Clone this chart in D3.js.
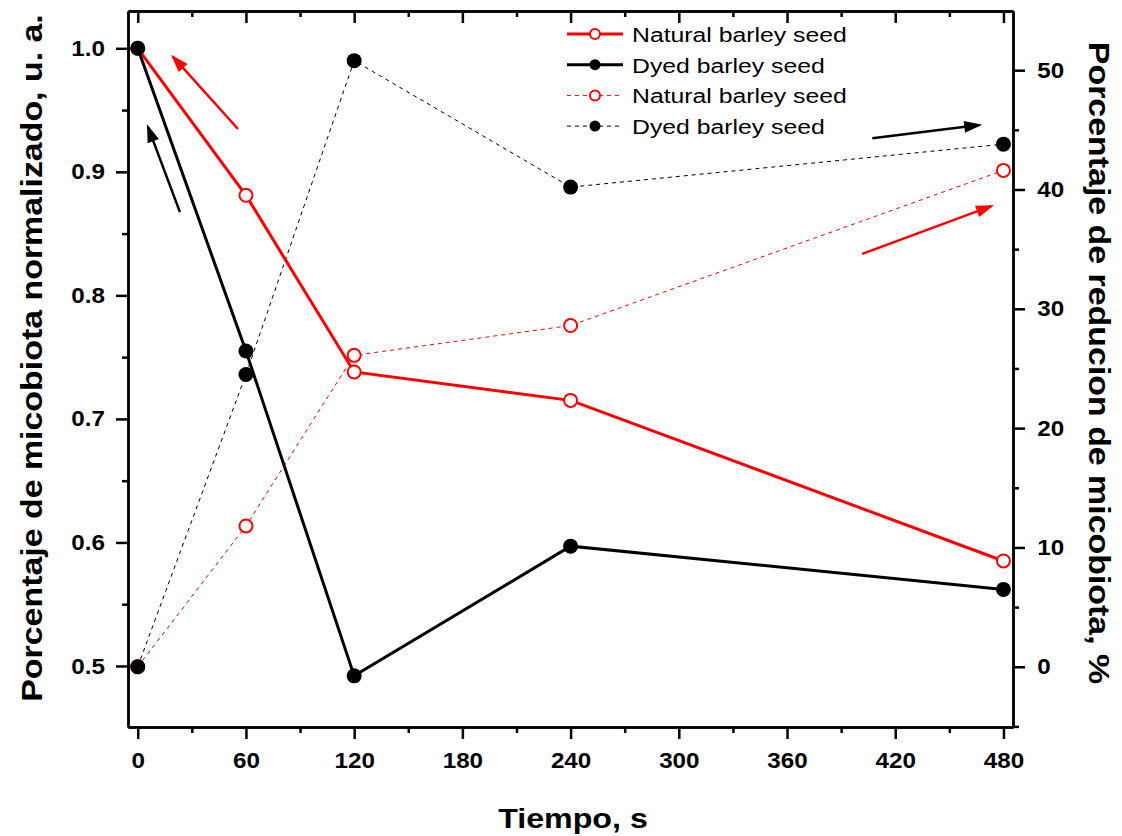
<!DOCTYPE html>
<html>
<head>
<meta charset="utf-8">
<script src="https://cdn.jsdelivr.net/npm/d3@7"></script>
<style>
  body { margin: 0; background: #fff; }
  text { font-family: "Liberation Sans", Arial, sans-serif; }
  .axis text { font-weight: bold; font-size: 22px; fill: #000; }
  .axis path, .axis line { stroke: #000; stroke-width: 2.5; }
</style>
</head>
<body>
<svg width="1122" height="836"></svg>
<script>
// values
var times = [0, 60, 120, 240, 480];
var naturalNorm = [1.0, 0.881, 0.738, 0.715, 0.585];
var dyedNorm = [1.0, 0.755, 0.492, 0.597, 0.562];
var naturalRed = [0, 11.8, 26.1, 28.6, 41.6];
var dyedRed = [0, 24.5, 50.8, 40.2, 43.8];

var xTicks = [0, 60, 120, 180, 240, 300, 360, 420, 480];
var xMinor = [30, 90, 150, 210, 270, 330, 390, 450];
var leftTicks = [0.5, 0.6, 0.7, 0.8, 0.9, 1.0];
var leftMinor = [0.55, 0.65, 0.75, 0.85, 0.95];
var rightTicks = [0, 10, 20, 30, 40, 50];
var rightMinor = [-5, 5, 15, 25, 35, 45];

var legendLabels = ["Natural barley seed", "Dyed barley seed", "Natural barley seed", "Dyed barley seed"];

var svg = d3.select("svg"),
    stretch = 1.1,
    box = { left: 128, right: 1013, top: 11, bottom: 727 };

var x = d3.scaleLinear().domain([-5.4, 485.3]).range([box.left, box.right]);
var yL = d3.scaleLinear().domain([0.4506, 1.0302]).range([box.bottom, box.top]);
var yR = d3.scaleLinear().domain([-5.05, 54.96]).range([box.bottom, box.top]);

var defs = svg.append("defs");
["red", "black"].forEach(function (c) {
  defs.append("marker")
    .attr("id", "head-" + c)
    .attr("viewBox", "0 -5 12 10")
    .attr("refX", 10).attr("refY", 0)
    .attr("markerWidth", 9).attr("markerHeight", 6)
    .attr("orient", "auto")
    .append("path").attr("d", "M0,-4L12,0L0,4Z").attr("fill", c === "red" ? "#ff0000" : "#000");
});

// axes
function stretchText(sel) {
  sel.selectAll("text").attr("transform", "scale(" + stretch + ",1)");
}
svg.append("g").attr("class", "axis")
  .attr("transform", "translate(0," + box.bottom + ")")
  .call(d3.axisBottom(x).tickValues(xTicks).tickSize(12).tickSizeOuter(0).tickPadding(13).tickFormat(d3.format("d")))
  .call(stretchText);
svg.append("g").attr("class", "axis")
  .attr("transform", "translate(0," + box.bottom + ")")
  .call(d3.axisBottom(x).tickValues(xMinor).tickSize(6).tickSizeOuter(0).tickFormat(""));
svg.append("g").attr("class", "axis")
  .attr("transform", "translate(0," + box.top + ")")
  .call(d3.axisTop(x).tickValues(xTicks).tickSize(-12).tickSizeOuter(0).tickFormat(""));
svg.append("g").attr("class", "axis")
  .attr("transform", "translate(0," + box.top + ")")
  .call(d3.axisTop(x).tickValues(xMinor).tickSize(-6).tickSizeOuter(0).tickFormat(""));

svg.append("g").attr("class", "axis")
  .attr("transform", "translate(" + box.left + ",0)")
  .call(d3.axisLeft(yL).tickValues(leftTicks).tickSize(12).tickSizeOuter(0).tickPadding(9).tickFormat(d3.format(".1f")))
  .call(stretchText);
svg.append("g").attr("class", "axis")
  .attr("transform", "translate(" + box.left + ",0)")
  .call(d3.axisLeft(yL).tickValues(leftMinor).tickSize(6).tickSizeOuter(0).tickFormat(""));

svg.append("g").attr("class", "axis")
  .attr("transform", "translate(" + box.right + ",0)")
  .call(d3.axisRight(yR).tickValues(rightTicks).tickSize(12).tickSizeOuter(0).tickPadding(10).tickFormat(d3.format("d")))
  .call(stretchText);
svg.append("g").attr("class", "axis")
  .attr("transform", "translate(" + box.right + ",0)")
  .call(d3.axisRight(yR).tickValues(rightMinor).tickSize(6).tickSizeOuter(0).tickFormat(""));

// axis titles
function label(txt, px, py, rot, size) {
  svg.append("text")
    .attr("transform", "translate(" + px + "," + py + ") rotate(" + rot + ") scale(1.15,1)")
    .attr("text-anchor", "middle")
    .style("font-weight", "bold")
    .style("font-size", size + "px")
    .text(txt);
}
label("Tiempo, s", 573, 828, 0, 28);
label("Porcentaje de micobiota normalizado, u. a.", 42, 358, -90, 29.5);
label("Porcentaje de reducion de micobiota, %", 1089, 363, 90, 29.5);

// series
var series = [
  { ys: naturalRed, scale: yR, color: "#ff0000", width: 1, dash: "4,4", open: true },
  { ys: dyedRed, scale: yR, color: "#000", width: 1, dash: "4,4", open: false },
  { ys: naturalNorm, scale: yL, color: "#ff0000", width: 3, dash: null, open: true },
  { ys: dyedNorm, scale: yL, color: "#000", width: 3, dash: null, open: false }
];

series.forEach(function (s) {
  var pts = times.map(function (t, i) { return [t, s.ys[i]]; });
  var line = d3.line()
    .x(function (d) { return x(d[0]); })
    .y(function (d) { return s.scale(d[1]); });
  svg.append("path")
    .datum(pts)
    .attr("d", line)
    .attr("fill", "none")
    .attr("stroke", s.color)
    .attr("stroke-width", s.width)
    .attr("stroke-dasharray", s.dash);
  svg.selectAll(null)
    .data(pts)
    .enter().append("circle")
      .attr("cx", function (d) { return x(d[0]); })
      .attr("cy", function (d) { return s.scale(d[1]); })
      .attr("r", s.open ? 6.5 : 7.5)
      .attr("fill", s.open ? "#fff" : "#000")
      .attr("stroke", s.color)
      .attr("stroke-width", s.open ? 2 : 0);
});

// arrows (tail -> tip, in data units)
var arrows = [
  { from: [55.6, 0.9347], to: [19.6, 0.993], scale: yL, color: "red" },
  { from: [23.4, 0.8674], to: [5.7, 0.9362], scale: yL, color: "black" },
  { from: [407.3, 44.3], to: [466.6, 45.4], scale: yR, color: "black" },
  { from: [401.7, 34.6], to: [473.2, 38.6], scale: yR, color: "red" }
];
svg.selectAll(".arrow")
  .data(arrows)
  .enter().append("line")
    .attr("class", "arrow")
    .attr("x1", function (d) { return x(d.from[0]); })
    .attr("y1", function (d) { return d.scale(d.from[1]); })
    .attr("x2", function (d) { return x(d.to[0]); })
    .attr("y2", function (d) { return d.scale(d.to[1]); })
    .attr("stroke", function (d) { return d.color === "red" ? "#ff0000" : "#000"; })
    .attr("stroke-width", 2.5)
    .attr("marker-end", function (d) { return "url(#head-" + d.color + ")"; });

// legend
var legend = svg.append("g").attr("transform", "translate(567,34)");
var leg = legend.selectAll("g")
  .data(series.slice(2).concat(series.slice(0, 2)))
  .enter().append("g")
    .attr("transform", function (d, i) { return "translate(0," + (i * 30.7) + ")"; });
leg.append("line")
  .attr("x1", 0).attr("x2", 56)
  .attr("stroke", function (d) { return d.color; })
  .attr("stroke-width", function (d) { return d.width; })
  .attr("stroke-dasharray", function (d) { return d.dash; });
leg.append("circle")
  .attr("cx", 28).attr("r", function (d) { return d.open ? 5 : 5.5; })
  .attr("fill", function (d) { return d.open ? "#fff" : "#000"; })
  .attr("stroke", function (d) { return d.color; })
  .attr("stroke-width", function (d) { return d.open ? 2 : 0; });
leg.append("text")
  .attr("transform", "translate(65,8) scale(1.18,1)")
  .style("font-size", "21px")
  .text(function (d, i) { return legendLabels[i]; });
</script>
</body>
</html>
